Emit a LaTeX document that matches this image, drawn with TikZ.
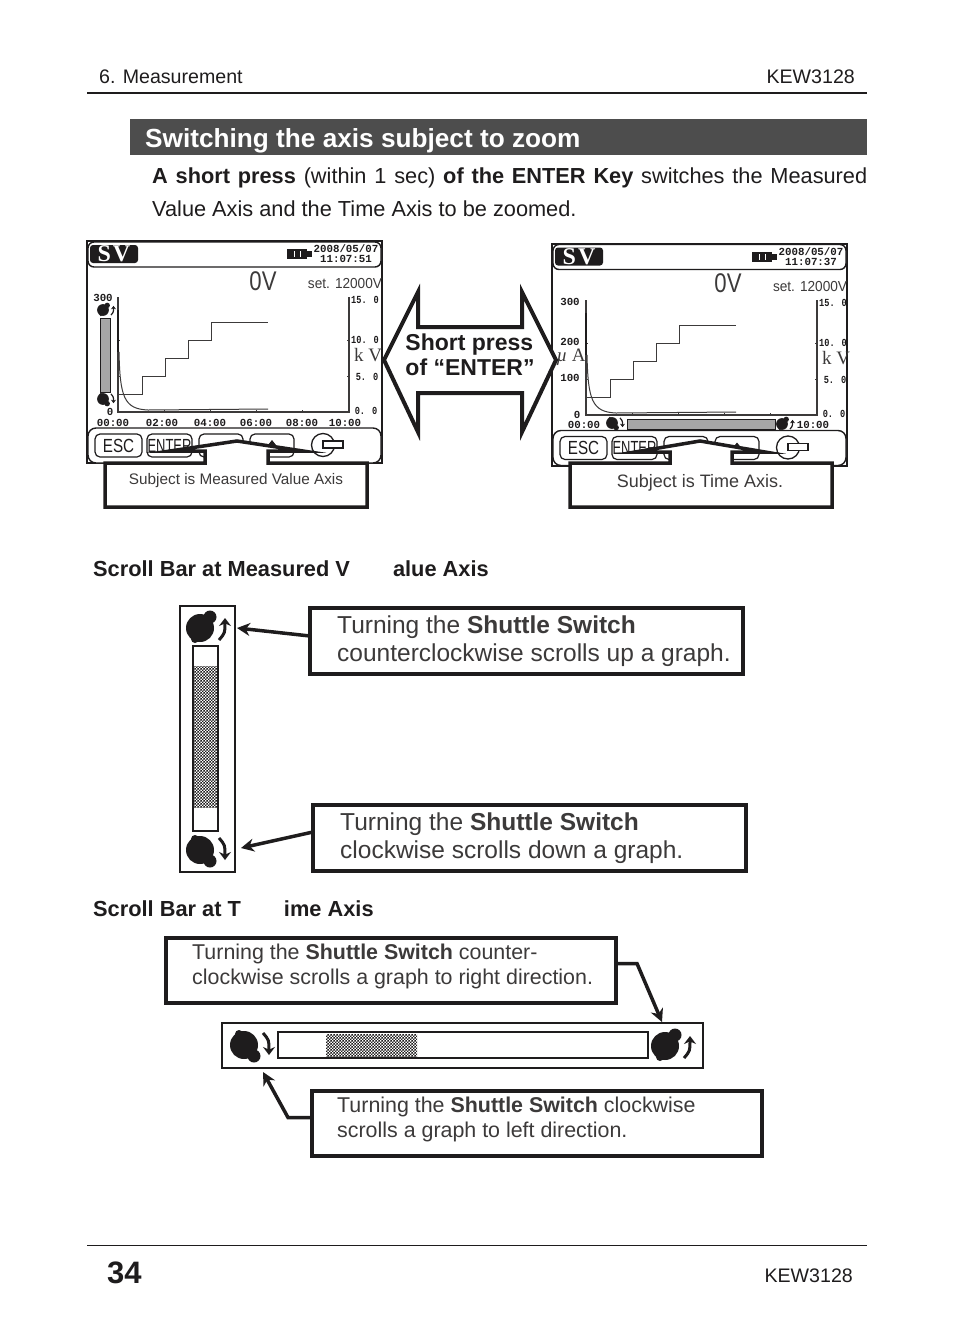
\documentclass[tikz,border=0pt]{standalone}
\usepackage{xcolor}
\usepackage{graphicx}
\usepackage{fontspec}
\setmainfont{Liberation Sans}
\newfontfamily\lcdmono{Liberation Mono}
\newfontfamily\lcdserif{Liberation Serif}
\usetikzlibrary{arrows.meta,positioning,calc,patterns}
\definecolor{inkBlack}{RGB}{30,28,29}
\definecolor{inkText}{RGB}{60,58,58}
\definecolor{titleGray}{RGB}{77,77,77}
\pgfdeclarepatternformonly{finecheck}{\pgfqpoint{0pt}{0pt}}{\pgfqpoint{3.4pt}{3.4pt}}{\pgfqpoint{3.4pt}{3.4pt}}{%
    \pgfpathrectangle{\pgfqpoint{0pt}{0pt}}{\pgfqpoint{1.7pt}{1.7pt}}%
    \pgfpathrectangle{\pgfqpoint{1.7pt}{1.7pt}}{\pgfqpoint{1.7pt}{1.7pt}}%
    \pgfusepath{fill}}
\begin{document}
\begin{tikzpicture}[
    x=1pt, y=-1pt,
    inkBlack,
    page/.style={font=\fontsize{19.6}{24}\selectfont, text=inkBlack, inner sep=0pt},
    bodytext/.style={page, font=\fontsize{21.75}{24}\selectfont, anchor=base west},
    heading/.style={font=\fontsize{21.8}{26}\selectfont\bfseries, text=inkBlack, inner sep=0pt, anchor=base west},
    lcdtick/.style={font=\fontsize{10.8}{12}\selectfont\lcdmono\bfseries, text=inkBlack, inner sep=0pt},
    lcdright/.style={lcdtick, xscale=.8},
    lcdunit/.style={font=\fontsize{19}{20}\selectfont\lcdserif, text=inkText, inner sep=0pt},
    lcdkey/.style={draw, line width=1.2pt, rounded corners=5pt, fill=white, inner sep=0pt, font=\fontsize{19}{20}\selectfont},
    callout/.style={draw, line width=3.5pt, fill=white, miter limit=20},
    subject/.style={text=inkText, inner sep=0pt},
    boxframe/.style={draw, line width=3.5pt, fill=white, inner sep=0pt, outer sep=0pt, anchor=north west},
    boxtext/.style={text=inkText, align=left, inner sep=0pt, anchor=west},
    bigtext/.style={boxtext, font=\fontsize{24.5}{28}\selectfont},
    smalltext/.style={boxtext, font=\fontsize{21.4}{25}\selectfont},
    pointer/.style={-{Stealth[length=13pt,width=13pt]}, line width=3.5pt},
    scrollframe/.style={draw, line width=2pt, fill=white, inner sep=0pt, outer sep=0pt},
    scrolltrack/.style={draw, line width=1.5pt, fill=white, inner sep=0pt, outer sep=0pt},
    knobarrow/.style={-{Stealth[length=8pt,width=12pt]}, line width=3pt},
    pics/knob/.style={code={
        \fill (0,0) circle (14);
        \fill (10,-11) circle (6.5);
        \fill (-5,11) circle (4);
        \draw[knobarrow] (19,12) .. controls (25,5) .. (25,-10);
    }},
    pics/lcdframe/.style={code={
        \draw[line width=2pt] (0,0) rectangle (295,222);
        \draw[line width=1.4pt, rounded corners=6pt, fill=white] (1,1) rectangle (294,26);
        \draw[line width=1.4pt, rounded corners=8pt, fill=white] (1,187) rectangle (294,222);
        \fill[rounded corners=3pt] (3,4) rectangle (51,22);
        \node[text=white, inner sep=0pt, font=\fontsize{24}{24}\selectfont\lcdserif\bfseries] (-sv) at (27,13) {S\hspace{2pt}V};
        \fill (200,8) rectangle (220,18);
        \fill (220,10) rectangle (225,16);
        \fill[white] (206.5,10) rectangle (207.5,16);
        \fill[white] (212.5,10) rectangle (213.5,16);
        \node[lcdtick] (-date) at (259,8) {2008/05/07};
        \node[lcdtick] (-time) at (259,18) {#1};
        \node[inner sep=0pt, text=inkText, xscale=.82, font=\fontsize{27}{30}\selectfont] (-read) at (176,40) {0V};
        \node[inner sep=0pt, text=inkText, xscale=.94, font=\fontsize{14.5}{16}\selectfont] (-set) at (258,43) {set. 12000V};
        \node[lcdkey, minimum width=47pt, minimum height=23pt] (-esc) at (31.5,204.5) {\scalebox{.8}[1]{ESC}};
        \node[lcdkey, minimum width=45pt, minimum height=23pt] (-enter) at (82.5,204.5) {\scalebox{.68}[1]{ENTER}};
        \node[lcdkey, minimum width=44pt, minimum height=23pt] (-down) at (134,204.5) {};
        \node[lcdkey, minimum width=44pt, minimum height=23pt] (-up) at (185,204.5) {};
        \fill (181,204) -- (185,199) -- (189,204) -- cycle;
        \draw[line width=1.3pt, fill=white] (236,204) circle (11.5);
        \draw[line width=1.3pt, fill=white] (236,200) rectangle (256,207);
    }},
    pics/lcdgraph/.style={code={
        \draw[line width=1.2pt, inkText] (0,-115) -- (0,0) -- (231,0) -- (231,-115);
        \foreach \tx in {46,92,138,184} \draw[line width=.8pt, inkText] (\tx,0) -- (\tx,-2);
        \foreach \ty in {-36,-72} {
            \draw[line width=.8pt, inkText] (0,\ty) -- (2,\ty);
            \draw[line width=.8pt, inkText] (231,\ty) -- (229,\ty);
        }
        \draw[line width=1pt, inkText] (1,-18) -- (24,-18) -- (24,-36) -- (47,-36) -- (47,-54) -- (70,-54) -- (70,-72) -- (93,-72) -- (93,-90) -- (150,-90);
        \draw[line width=1.6pt] (0,-102) -- (0,-60);
        \draw[line width=1pt, inkText] (1,-60) .. controls (2,-15) and (6,-3) .. (30,-2) -- (150,-3);
        \node[lcdright] (-rfif) at (247,-112) {15. 0};
        \node[lcdright] (-rten) at (247,-72) {10. 0};
        \node[lcdunit] (-kv) at (250,-57) {k V};
        \node[lcdright] (-rfiv) at (249,-35) {5. 0};
        \node[lcdright] (-rzer) at (248,-1) {0. 0};
    }},
]
    \useasboundingbox (0,0) rectangle (954,1339);

    % Header
    \node[page, anchor=base west] (chapter) at (99,83) {6. Measurement};
    \node[page, anchor=base east] (model) at (855,83) {KEW3128};
    \draw[line width=1.5pt] (87,93) -- (867,93);

    % Title
    \node[fill=titleGray, minimum width=737pt, minimum height=36pt, inner sep=0pt, anchor=north west] (titlebar) at (130,119) {};
    \node[inner sep=0pt, text=white, anchor=west, font=\fontsize{26.2}{30}\selectfont\bfseries] (title) at (145,141) {Switching the axis subject to zoom};

    % Body text
    \node[bodytext] (line1) at (152,183) {\makebox[715pt][s]{\textbf{A short press} (within 1 sec) \textbf{of the ENTER Key} switches the Measured}};
    \node[bodytext] (line2) at (152,216) {Value Axis and the Time Axis to be zoomed.};

    % Left screen
    \begin{scope}[knobarrow/.style={-{Stealth[length=3.5pt,width=5pt]}, line width=1.2pt}]
        \pic (lcdl) at (87,241) {lcdframe={11:07:51}};
        \pic (grl) at (118,412) {lcdgraph};
        \node[lcdtick] (l300) at (103,298) {300};
        \node[lcdtick] (l0) at (110,412) {0};
        \foreach \tlab/\tx in {00:00/113,02:00/162,04:00/210,06:00/256,08:00/302,10:00/345}
            \node[lcdtick] (lt\tx) at (\tx,422.5) {\tlab};
        \node[draw, line width=.8pt, fill=gray!70, minimum width=10pt, minimum height=74pt, inner sep=0pt] (lbar) at (105,355) {};
        \pic[scale=.42] at (103,310) {knob};
        \pic[scale=.42, yscale=-1] at (103,399) {knob};
    \end{scope}

    % Right screen
    \begin{scope}[knobarrow/.style={-{Stealth[length=3.5pt,width=5pt]}, line width=1.2pt}]
        \pic (lcdr) at (552,243.5) {lcdframe={11:07:37}};
        \pic (grr) at (586,415) {lcdgraph};
        \node[lcdtick] (r300) at (570,302) {300};
        \node[lcdtick] (r200) at (570,342) {200};
        \node[lcdtick] (r100) at (570,378) {100};
        \node[lcdtick] (r0) at (577,415) {0};
        \node[lcdunit] (rua) at (571,357) {\textit{µ} A};
        \node[lcdtick] (rt0) at (584,424.5) {00:00};
        \node[lcdtick] (rt10) at (813,424.5) {10:00};
        \node[draw, line width=.8pt, fill=gray!70, minimum width=148pt, minimum height=10pt, inner sep=0pt] (rbar) at (701,424) {};
        \pic[scale=.42] at (782,424) {knob};
        \pic[scale=.42, yscale=-1] at (612,423) {knob};
    \end{scope}

    % Double arrow
    \draw[line width=4pt, fill=white, miter limit=20] (384,360) -- (418,292) -- (418,327) -- (522,327) -- (522,292) -- (556,360) -- (522,432) -- (522,393) -- (418,393) -- (418,432) -- cycle;
    \node[inner sep=0pt, align=left, text=inkBlack, font=\fontsize{23}{25.5}\selectfont\bfseries] (press) at (470,355) {Short press\\of “ENTER”};

    % Callouts
    \draw[callout] (105,463) -- (205,463) -- (205,451) -- (170,451) -- (237,441) -- (303,451) -- (268,451) -- (268,463) -- (367,463) -- (367,507) -- (105,507) -- cycle;
    \node[subject, font=\fontsize{15.3}{18}\selectfont] (subjl) at (236,481) {Subject is Measured Value Axis};
    \draw[callout] (570,463) -- (670,463) -- (670,452) -- (635,452) -- (700,441) -- (765,452) -- (732,452) -- (732,463) -- (832,463) -- (832,507) -- (570,507) -- cycle;
    \node[subject, font=\fontsize{18}{20}\selectfont] (subjr) at (700,483) {Subject is Time Axis.};

    % Scroll bar, measured value axis
    \node[heading] (headv) at (93,576) {Scroll Bar at Measured V\hspace{43pt}alue Axis};
    \node[scrollframe, minimum width=55pt, minimum height=266pt] (barv) at (207.5,739) {};
    \node[scrolltrack, minimum width=25pt, minimum height=185pt] (trackv) at (205.5,738.5) {};
    \fill[pattern=finecheck, pattern color=inkBlack] (194,666) rectangle (218,807);
    \pic at (200,628) {knob};
    \pic[yscale=-1] at (200,850) {knob};

    \node[boxframe, minimum width=433pt, minimum height=66pt] (boxup) at (310,608) {};
    \node[bigtext] (textup) at ([xshift=27pt]boxup.west) {Turning the \textbf{Shuttle Switch}\\counterclockwise scrolls up a graph.};
    \node[boxframe, minimum width=433pt, minimum height=66pt] (boxdown) at (313,805) {};
    \node[bigtext] (textdown) at ([xshift=27pt]boxdown.west) {Turning the \textbf{Shuttle Switch}\\clockwise scrolls down a graph.};

    \coordinate (tipup) at (237,628);
    \coordinate (tipdown) at (241,848);
    \draw[pointer] ([yshift=5pt]boxup.west) -- (tipup);
    \draw[pointer] ([yshift=6pt]boxdown.west) -- (tipdown);

    % Scroll bar, time axis
    \node[heading] (headt) at (93,916) {Scroll Bar at T\hspace{43pt}ime Axis};
    \node[boxframe, minimum width=450pt, minimum height=65pt] (boxright) at (166,938) {};
    \node[smalltext] (textright) at ([xshift=26pt, yshift=4pt]boxright.west) {Turning the \textbf{Shuttle Switch} counter-\\clockwise scrolls a graph to right direction.};
    \node[scrollframe, minimum width=481pt, minimum height=45pt] (bart) at (462.5,1045.5) {};
    \node[scrolltrack, minimum width=370pt, minimum height=26pt] (trackt) at (463,1045) {};
    \fill[pattern=finecheck, pattern color=inkBlack] (326,1034) rectangle (417,1057);
    \pic[yscale=-1] at (244,1045) {knob};
    \pic at (665,1046) {knob};

    \node[boxframe, minimum width=450pt, minimum height=65pt] (boxleft) at (312,1091) {};
    \node[smalltext] (textleft) at ([xshift=25pt, yshift=4pt]boxleft.west) {Turning the \textbf{Shuttle Switch} clockwise\\scrolls a graph to left direction.};

    \coordinate (tipright) at (662,1022);
    \coordinate (tipleft) at (263,1072);
    \draw[pointer] ([yshift=7pt]boxright.east) -- ++(21,0) -- (tipright);
    \draw[pointer] ([yshift=6pt]boxleft.west) -- ++(-24,0) -- (tipleft);

    % Footer
    \draw[line width=.8pt] (87,1245) -- (867,1245);
    \node[inner sep=0pt, anchor=base west, font=\fontsize{31}{36}\selectfont\bfseries] (pageno) at (107,1283) {34};
    \node[page, anchor=base east] (modelb) at (853,1282) {KEW3128};
\end{tikzpicture}
\end{document}
